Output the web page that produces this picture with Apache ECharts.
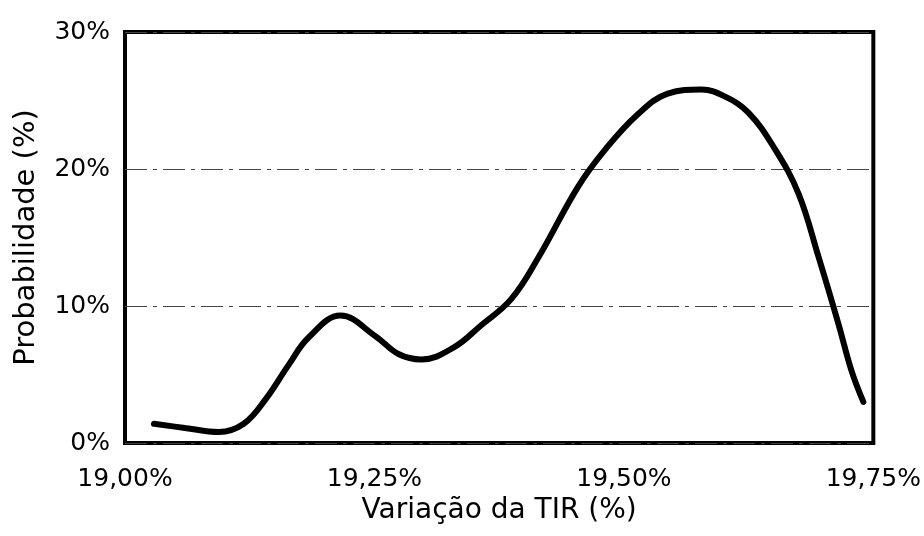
<!DOCTYPE html>
<html>
<head>
<meta charset="utf-8">
<script src="https://cdn.jsdelivr.net/npm/echarts@6/dist/echarts.min.js"></script>
<style>
  html, body { margin: 0; padding: 0; background: #fff; }
  #chart { width: 924px; height: 536px; }
</style>
</head>
<body>
<div id="chart"></div>
<script>
// Variação da TIR (%) vs probabilidade (%)
const tirValues = [19.029, 19.060, 19.094, 19.119, 19.141, 19.164, 19.184, 19.216, 19.251, 19.274,
  19.297, 19.330, 19.357, 19.387, 19.414, 19.454, 19.481, 19.514, 19.544, 19.578,
  19.601, 19.625, 19.651, 19.675, 19.695, 19.715, 19.728, 19.740];
const probValues = [1.4, 1.1, 0.8, 1.4, 3.2, 5.7, 7.7, 9.3, 7.8, 6.5,
  6.1, 7.0, 8.6, 10.5, 13.5, 18.7, 21.4, 24.0, 25.5, 25.8,
  25.3, 24.1, 21.5, 18.2, 13.6, 8.7, 5.3, 3.0];
const xTicks = [19.00, 19.25, 19.50, 19.75];
const yTicks = [0, 10, 20, 30];

const font = '"DejaVu Sans", Verdana, sans-serif';
const chart = echarts.init(document.getElementById('chart'), null, { renderer: 'canvas' });

chart.setOption({
  animation: false,
  backgroundColor: '#fff',
  grid: {
    left: 125, right: 50, top: 32, bottom: 93,
    show: true, borderColor: '#000', borderWidth: 4, backgroundColor: 'transparent'
  },
  xAxis: {
    type: 'value',
    min: xTicks[0], max: xTicks[xTicks.length - 1], interval: 0.25,
    name: 'Variação da TIR (%)',
    nameLocation: 'middle', nameGap: 50,
    nameTextStyle: { fontFamily: font, fontSize: 28, color: '#000' },
    axisLine: { show: false },
    axisTick: { show: false },
    splitLine: { show: false },
    axisLabel: {
      margin: 24, fontFamily: font, fontSize: 25, color: '#000',
      formatter: v => v.toFixed(2).replace('.', ',') + '%'
    }
  },
  yAxis: {
    type: 'value',
    min: yTicks[0], max: yTicks[yTicks.length - 1], interval: 10,
    name: 'Probabilidade (%)',
    nameLocation: 'middle', nameGap: 84,
    nameTextStyle: { fontFamily: font, fontSize: 29, color: '#000' },
    axisLine: { show: false },
    axisTick: { show: false },
    axisLabel: {
      margin: 15, fontFamily: font, fontSize: 25, color: '#000',
      formatter: '{value}%'
    },
    splitLine: {
      show: true,
      lineStyle: { color: '#444', width: 1, type: [22, 6, 4, 6] }
    }
  },
  series: [{
    type: 'line',
    data: tirValues.map((x, i) => [x, probValues[i]]),
    smooth: 0.4,
    showSymbol: false,
    lineStyle: { color: '#000', width: 6, cap: 'round' }
  }]
});
</script>
</body>
</html>
